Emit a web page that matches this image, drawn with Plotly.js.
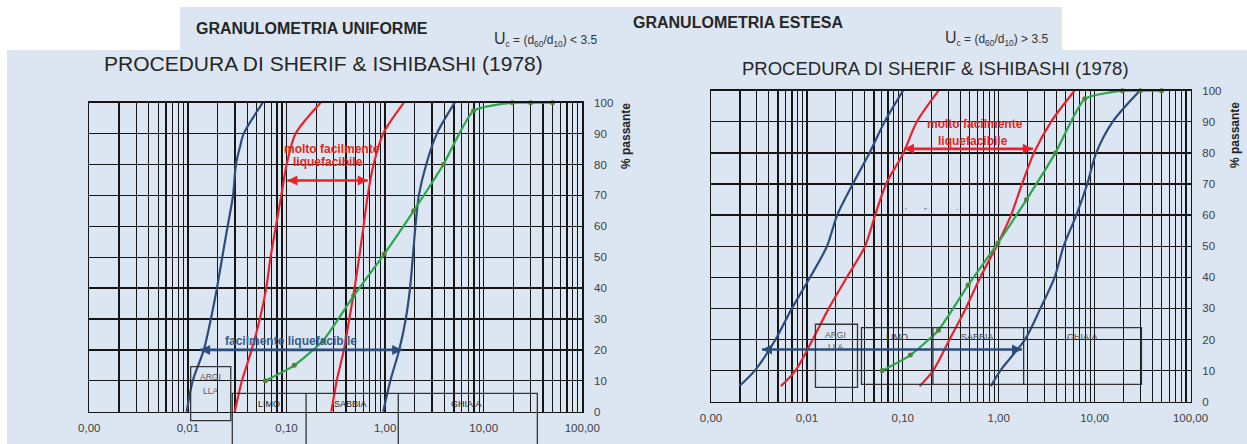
<!DOCTYPE html>
<html><head><meta charset="utf-8">
<script src="https://cdn.plot.ly/plotly-3.0.1.min.js"></script>
<style>html,body{margin:0;padding:0;background:#fff;} #chart{width:1247px;height:444px;}</style>
</head><body><div id="chart"></div>
<script>
// ---------- data ----------
const xTickDecades = [0.001, 0.01, 0.1, 1, 10, 100];
const xTickText = ['0,00', '0,01', '0,10', '1,00', '10,00', '100,00'];
const yTickVals = [0, 10, 20, 30, 40, 50, 60, 70, 80, 90, 100];

// Granulometria uniforme (left chart)
const uniBlueLeftX = [0.0097, 0.0112, 0.0145, 0.0171, 0.0197, 0.0223, 0.0253, 0.0287, 0.0307, 0.0339, 0.0368, 0.0574];
const uniBlueLeftY = [0, 10, 20, 30, 40, 50, 60, 70, 80, 86, 90, 100];
const uniY = [0, 10, 20, 30, 40, 50, 60, 70, 80, 90, 100];
const uniRedLeftX = [0.0299, 0.0353, 0.0443, 0.0536, 0.0623, 0.0689, 0.0781, 0.0886, 0.1004, 0.1237, 0.222];
const uniRedRightX = [0.285, 0.323, 0.382, 0.433, 0.490, 0.546, 0.604, 0.667, 0.764, 0.957, 1.55];
const uniBlueRightX = [0.957, 1.13, 1.39, 1.62, 1.79, 1.91, 2.03, 2.20, 2.61, 3.35, 5.08];

// Granulometria estesa (right chart)
const estY = [5, 10, 20, 30, 40, 50, 60, 70, 80, 90, 100];
const estBlueLeftX = [0.00197, 0.00286, 0.00471, 0.00697, 0.0108, 0.0162, 0.0207, 0.0301, 0.0449, 0.0646, 0.1007];
const estRedLeftX = [0.00536, 0.0076, 0.0115, 0.0169, 0.0261, 0.0404, 0.0515, 0.0669, 0.1016, 0.140, 0.236];
const estRedRightX = [0.150, 0.207, 0.307, 0.453, 0.643, 0.95, 1.345, 1.75, 2.33, 3.51, 6.17];
const estBlueRightX = [0.83, 1.04, 1.88, 2.72, 3.83, 4.75, 6.45, 8.38, 10.4, 15.4, 29.6];

// sample curve (same in both charts)
const sampleX = [0.061, 0.12, 0.235, 0.48, 0.98, 1.95, 3.9, 7.9, 19.5, 30, 50];
const sampleY = [10, 15, 23, 37.5, 51, 65, 80, 97.4, 100, 100, 100];

// double arrows [x0, x1, y]
const uniRedArrow = [0.102, 0.667, 74.8];
const uniBlueArrow = [0.0133, 1.49, 20];
const estRedArrow = [0.103, 2.27, 81.3];
const estBlueArrow = [0.0034, 1.75, 16.8];

// soil class boxes
const uniArgiBox = {x: [0.01066, 0.0272], y: [-2.9, 14.56]};
const uniSoilEdges = [0.0282, 0.158, 1.36, 35.0];
const uniSoilTop = 5.95;
const estArgiBox = {x: [0.01228, 0.0337], y: [4.6, 24.9]};
const estSoilEdges = [0.0371, 0.206, 1.82, 30.8];
const estSoilY = [5.6, 23.8];

// ---------- layout helpers ----------
const W = 1247, H = 444;
const FONT = 'Liberation Sans, Arial, sans-serif';
const px = p => p / W;
const py = p => 1 - p / H;
const L_X_DOM = [px(89.3), px(582.3)];
const L_Y_DOM = [py(411.7), py(102.7)];
const R_X_DOM = [px(711), px(1190.5)];
const R_Y_DOM = [py(401.7), py(90.7)];
const yPaper = (v, dom) => dom[0] + v / 100 * (dom[1] - dom[0]);

const BLUE = '#2c4c7e', RED = '#e8232b', GREEN = '#2aa64f', BG = '#dce6f2';
const RED_TXT = '#e3261f', BLUE_TXT = '#355d90';
const GRID = '#151515';

const minorVals = [];
for (let k = -3; k <= 1; k++) {
  for (let m = 2; m <= 9; m++) minorVals.push(Number((m * Math.pow(10, k)).toPrecision(3)));
}

function curve(x, y, color, xa, ya) {
  return {x, y, xaxis: xa, yaxis: ya, type: 'scatter', mode: 'lines',
    line: {color, width: 2.2, shape: 'spline', smoothing: 0.8},
    hoverinfo: 'skip', showlegend: false};
}
function sample(xa, ya) {
  return {x: sampleX, y: sampleY, xaxis: xa, yaxis: ya, type: 'scatter', mode: 'lines+markers',
    line: {color: GREEN, width: 2.2, shape: 'spline', smoothing: 0.5},
    marker: {size: 5, color: '#55803a'}, cliponaxis: false,
    hoverinfo: 'skip', showlegend: false};
}
function dblArrow(a, color, xa, ya) {
  return {x: [a[0], a[1]], y: [a[2], a[2]], xaxis: xa, yaxis: ya, type: 'scatter', mode: 'lines+markers',
    line: {color, width: 2.6},
    marker: {symbol: ['arrow-left', 'arrow-right'], size: 10, color, line: {width: 0}},
    cliponaxis: false, hoverinfo: 'skip', showlegend: false};
}

const data = [
  curve(uniBlueLeftX, uniBlueLeftY, BLUE, 'x', 'y'),
  curve(uniRedLeftX, uniY, RED, 'x', 'y'),
  curve(uniRedRightX, uniY, RED, 'x', 'y'),
  curve(uniBlueRightX, uniY, BLUE, 'x', 'y'),
  sample('x', 'y'),
  dblArrow(uniRedArrow, RED, 'x', 'y'),
  dblArrow(uniBlueArrow, BLUE, 'x', 'y'),
  curve(estBlueLeftX, estY, BLUE, 'x2', 'y2'),
  curve(estRedLeftX, estY, RED, 'x2', 'y2'),
  curve(estRedRightX, estY, RED, 'x2', 'y2'),
  curve(estBlueRightX, estY, BLUE, 'x2', 'y2'),
  sample('x2', 'y2'),
  dblArrow(estRedArrow, RED, 'x2', 'y2'),
  dblArrow(estBlueArrow, BLUE, 'x2', 'y2')
];

function xAxis(dom, anchor) {
  return {type: 'log', range: [-3, 2], domain: dom, anchor,
    tickmode: 'array', tickvals: xTickDecades, ticktext: xTickText,
    showgrid: true, gridcolor: GRID, gridwidth: 1.3,
    minor: {tickmode: 'array', tickvals: minorVals, showgrid: true, gridcolor: GRID, gridwidth: 1.3, ticks: ''},
    showline: true, mirror: true, linecolor: GRID, linewidth: 1.5,
    ticks: '', zeroline: false, ticklabelstandoff: 5,
    tickfont: {family: FONT, size: 11.5, color: '#404040'}, fixedrange: true};
}
function yAxis(dom, anchor) {
  return {range: [0, 100], domain: dom, anchor, side: 'right',
    tickmode: 'array', tickvals: yTickVals,
    showgrid: true, gridcolor: GRID, gridwidth: 1.3,
    showline: true, mirror: true, linecolor: GRID, linewidth: 1.5,
    ticks: '', zeroline: false, ticklabelstandoff: 8,
    tickfont: {family: FONT, size: 11.5, color: '#404040'}, fixedrange: true};
}

const shapes = [
  {type: 'rect', xref: 'paper', yref: 'paper', x0: px(180), x1: px(1062), y0: py(50), y1: py(7),
    fillcolor: BG, line: {width: 0}, layer: 'below'},
  {type: 'rect', xref: 'paper', yref: 'paper', x0: px(7), x1: 1, y0: 0, y1: py(50),
    fillcolor: BG, line: {width: 0}, layer: 'below'}
];
const boxLine = {color: '#333', width: 1.3};
shapes.push({type: 'rect', xref: 'x', yref: 'paper', x0: uniArgiBox.x[0], x1: uniArgiBox.x[1],
  y0: yPaper(uniArgiBox.y[0], L_Y_DOM), y1: yPaper(uniArgiBox.y[1], L_Y_DOM), line: boxLine, layer: 'above'});
shapes.push({type: 'rect', xref: 'x', yref: 'paper', x0: uniSoilEdges[0], x1: uniSoilEdges[3],
  y0: -0.05, y1: yPaper(uniSoilTop, L_Y_DOM), line: boxLine, layer: 'above'});
[uniSoilEdges[1], uniSoilEdges[2]].forEach(e => shapes.push({type: 'line', xref: 'x', yref: 'paper',
  x0: e, x1: e, y0: -0.05, y1: yPaper(uniSoilTop, L_Y_DOM), line: boxLine, layer: 'above'}));
shapes.push({type: 'rect', xref: 'x2', yref: 'y2', x0: estArgiBox.x[0], x1: estArgiBox.x[1],
  y0: estArgiBox.y[0], y1: estArgiBox.y[1], line: boxLine, layer: 'above'});
shapes.push({type: 'rect', xref: 'x2', yref: 'y2', x0: estSoilEdges[0], x1: estSoilEdges[3],
  y0: estSoilY[0], y1: estSoilY[1], line: boxLine, layer: 'above'});
[estSoilEdges[1], estSoilEdges[2]].forEach(e => shapes.push({type: 'line', xref: 'x2', yref: 'y2',
  x0: e, x1: e, y0: estSoilY[0], y1: estSoilY[1], line: boxLine, layer: 'above'}));

function ptxt(text, x, y, size, color, extra) {
  return Object.assign({xref: 'paper', yref: 'paper', x: px(x), y: py(y), xanchor: 'center', yanchor: 'middle',
    text, showarrow: false, font: {family: FONT, size, color}}, extra || {});
}
function dtxt(text, x, y, xa, ya, size, color, extra) {
  return Object.assign({xref: xa, yref: ya, x: Math.log10(x), y, xanchor: 'center', yanchor: 'middle',
    text, showarrow: false, font: {family: FONT, size, color}}, extra || {});
}

const UC_LT = '<span style="font-size:16px">U</span><sub>c</sub> = (d<sub>60</sub>/d<sub>10</sub>) &lt; 3.5';
const UC_GT = '<span style="font-size:16px">U</span><sub>c</sub> = (d<sub>60</sub>/d<sub>10</sub>) &gt; 3.5';

const annotations = [
  ptxt('<b>GRANULOMETRIA UNIFORME</b>', 312, 28, 16, '#262626'),
  ptxt(UC_LT, 545, 40, 12, '#333'),
  ptxt('<b>GRANULOMETRIA ESTESA</b>', 738, 22, 16, '#262626'),
  ptxt(UC_GT, 996, 39, 12, '#333'),
  ptxt('PROCEDURA DI SHERIF &amp; ISHIBASHI (1978)', 323, 64, 21, '#262626'),
  ptxt('PROCEDURA DI SHERIF &amp; ISHIBASHI (1978)', 935, 69, 18.5, '#262626'),
  ptxt('<b>% passante</b>', 626, 136, 12, '#222', {textangle: -90}),
  ptxt('<b>% passante</b>', 1235, 135, 12, '#222', {textangle: -90}),
  dtxt('<b>molto facilmente</b>', 0.29, 85.0, 'x', 'y', 12, RED_TXT),
  dtxt('<b>liquefacibile</b>', 0.262, 80.9, 'x', 'y', 12, RED_TXT),
  dtxt('<b>facilmente liquefacibile</b>', 0.11, 22.9, 'x', 'y', 12, BLUE_TXT),
  dtxt('ARGI', 0.0168, 11.1, 'x', 'y', 8.5, '#555'),
  dtxt('LLA', 0.0168, 6.8, 'x', 'y', 8.5, '#555'),
  dtxt('LIMO', 0.066, 2.6, 'x', 'y', 9, '#222'),
  dtxt('SABBIA', 0.45, 2.6, 'x', 'y', 9, '#222'),
  dtxt('GHIAIA', 6.73, 2.6, 'x', 'y', 9, '#222'),
  dtxt('<b>molto facilmente</b>', 0.563, 89.3, 'x2', 'y2', 12, RED_TXT),
  dtxt('<b>liquefacibile</b>', 0.54, 83.7, 'x2', 'y2', 12, RED_TXT),
  dtxt('ARGI', 0.02, 21.4, 'x2', 'y2', 8.5, '#555'),
  dtxt('LLA', 0.02, 17.5, 'x2', 'y2', 8.5, '#555'),
  dtxt('LIMO', 0.0867, 20.7, 'x2', 'y2', 9, '#444'),
  dtxt('SABBIA', 0.6, 20.7, 'x2', 'y2', 9, '#444'),
  dtxt('GHIAIA', 7.41, 20.7, 'x2', 'y2', 9, '#444'),
  dtxt("'", 0.108, 61.5, 'x2', 'y2', 8, '#333'),
  dtxt('"', 0.174, 61.5, 'x2', 'y2', 8, '#333'),
  dtxt('.', 0.365, 62.5, 'x2', 'y2', 8, '#333')
];

const layout = {
  width: W, height: H, margin: {l: 0, r: 0, t: 0, b: 0, pad: 0},
  paper_bgcolor: '#ffffff', plot_bgcolor: '#ffffff',
  font: {family: FONT},
  showlegend: false,
  xaxis: xAxis(L_X_DOM, 'y'), yaxis: yAxis(L_Y_DOM, 'x'),
  xaxis2: xAxis(R_X_DOM, 'y2'), yaxis2: yAxis(R_Y_DOM, 'x2'),
  shapes, annotations
};

Plotly.newPlot('chart', data, layout, {displayModeBar: false, staticPlot: true});
</script></body></html>
